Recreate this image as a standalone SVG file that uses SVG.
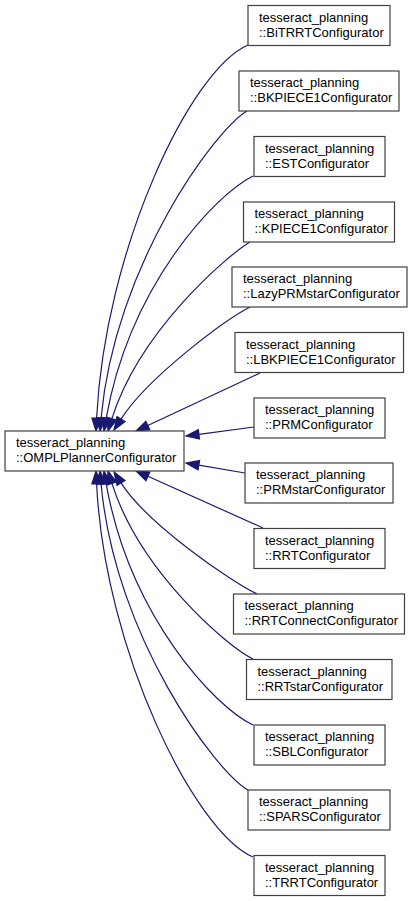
<svg xmlns="http://www.w3.org/2000/svg" width="412" height="901" viewBox="0 0 412 901">
<style>
.box{fill:#ffffff;stroke:#404040;stroke-width:1.2}
.lbl{font-family:"Liberation Sans",Arial,sans-serif;font-size:13px;fill:#000000}
.edge path{fill:none;stroke:#191970;stroke-width:1.2}
.edge polygon{fill:#191970;stroke:#191970;stroke-width:1.2}
</style>
<rect width="412" height="901" fill="#ffffff"/>
<g id="connectors" class="edge">
<path d="M248,45 C190,70 105,250 96.6,418"/><polygon points="91.9,418 101.3,418 96,431"/>
<path d="M247,111 C215,130 115,265 101.1,418"/><polygon points="96.4,417.6 105.8,418.4 100,431"/>
<path d="M253,176 C215,195 130,285 106.2,418.2"/><polygon points="101.6,417.4 110.8,419 104,431"/>
<path d="M250,242 C228,255 140,330 111.9,418.6"/><polygon points="107.4,417.2 116.4,420 108,431"/>
<path d="M250,307 C225,320 148,377 121,419.1"/><polygon points="117,416.6 125,421.6 114,430"/>
<path d="M260,373 L147.8,425.5"/><polygon points="145.8,421.2 149.8,429.8 136,431"/>
<path d="M254,427 L198.9,434.3"/><polygon points="198.3,429.6 199.5,439 186,436"/>
<path d="M245,473 L198.8,465.2"/><polygon points="199.6,460.6 198,469.8 186,463"/>
<path d="M263,528 L147.9,476.3"/><polygon points="149.8,472 146,480.6 136,471"/>
<path d="M257,594 C232,582 148,525 121,482.9"/><polygon points="125,480.4 117,485.4 114,472"/>
<path d="M253,659 C228,647 140,572 111.9,483.4"/><polygon points="116.4,482 107.4,484.8 108,471"/>
<path d="M253,725 C215,707 130,617 106.2,483.8"/><polygon points="110.8,483 101.6,484.6 104,471"/>
<path d="M248,790 C216,772 115,637 101.1,484"/><polygon points="105.8,483.6 96.4,484.4 100,471"/>
<path d="M253,857 C195,832 105,652 96.6,484"/><polygon points="101.3,484 91.9,484 96,471"/>
</g>
<g id="OMPLPlannerConfigurator"><rect class="box" x="5" y="431" width="179" height="40"/><text class="lbl" x="16" y="447">tesseract_planning<tspan x="16" y="462">::OMPLPlannerConfigurator</tspan></text></g>
<g id="BiTRRTConfigurator"><rect class="box" x="248" y="5.5" width="142" height="40"/><text class="lbl" x="259" y="21.5">tesseract_planning<tspan x="259" y="36.5">::BiTRRTConfigurator</tspan></text></g>
<g id="BKPIECE1Configurator"><rect class="box" x="239" y="71" width="160" height="40"/><text class="lbl" x="250" y="87">tesseract_planning<tspan x="250" y="102">::BKPIECE1Configurator</tspan></text></g>
<g id="ESTConfigurator"><rect class="box" x="254" y="136.5" width="131" height="40"/><text class="lbl" x="265" y="152.5">tesseract_planning<tspan x="265" y="167.5">::ESTConfigurator</tspan></text></g>
<g id="KPIECE1Configurator"><rect class="box" x="243.5" y="202" width="151" height="40"/><text class="lbl" x="254.5" y="218">tesseract_planning<tspan x="254.5" y="233">::KPIECE1Configurator</tspan></text></g>
<g id="LazyPRMstarConfigurator"><rect class="box" x="232" y="267" width="175" height="40"/><text class="lbl" x="243" y="283">tesseract_planning<tspan x="243" y="298">::LazyPRMstarConfigurator</tspan></text></g>
<g id="LBKPIECE1Configurator"><rect class="box" x="235" y="332.5" width="168.5" height="40"/><text class="lbl" x="246" y="348.5">tesseract_planning<tspan x="246" y="363.5">::LBKPIECE1Configurator</tspan></text></g>
<g id="PRMConfigurator"><rect class="box" x="254" y="398" width="131" height="40"/><text class="lbl" x="265" y="414">tesseract_planning<tspan x="265" y="429">::PRMConfigurator</tspan></text></g>
<g id="PRMstarConfigurator"><rect class="box" x="245" y="463" width="148" height="40"/><text class="lbl" x="256" y="479">tesseract_planning<tspan x="256" y="494">::PRMstarConfigurator</tspan></text></g>
<g id="RRTConfigurator"><rect class="box" x="254" y="528.5" width="131" height="40"/><text class="lbl" x="265" y="544.5">tesseract_planning<tspan x="265" y="559.5">::RRTConfigurator</tspan></text></g>
<g id="RRTConnectConfigurator"><rect class="box" x="233.5" y="594" width="171" height="40"/><text class="lbl" x="244.5" y="610">tesseract_planning<tspan x="244.5" y="625">::RRTConnectConfigurator</tspan></text></g>
<g id="RRTstarConfigurator"><rect class="box" x="246.5" y="659.5" width="145.5" height="40"/><text class="lbl" x="257.5" y="675.5">tesseract_planning<tspan x="257.5" y="690.5">::RRTstarConfigurator</tspan></text></g>
<g id="SBLConfigurator"><rect class="box" x="254" y="725" width="131" height="40"/><text class="lbl" x="265" y="741">tesseract_planning<tspan x="265" y="756">::SBLConfigurator</tspan></text></g>
<g id="SPARSConfigurator"><rect class="box" x="248" y="790" width="142" height="40"/><text class="lbl" x="259" y="806">tesseract_planning<tspan x="259" y="821">::SPARSConfigurator</tspan></text></g>
<g id="TRRTConfigurator"><rect class="box" x="254" y="855.5" width="131" height="40"/><text class="lbl" x="265" y="871.5">tesseract_planning<tspan x="265" y="886.5">::TRRTConfigurator</tspan></text></g>
</svg>
